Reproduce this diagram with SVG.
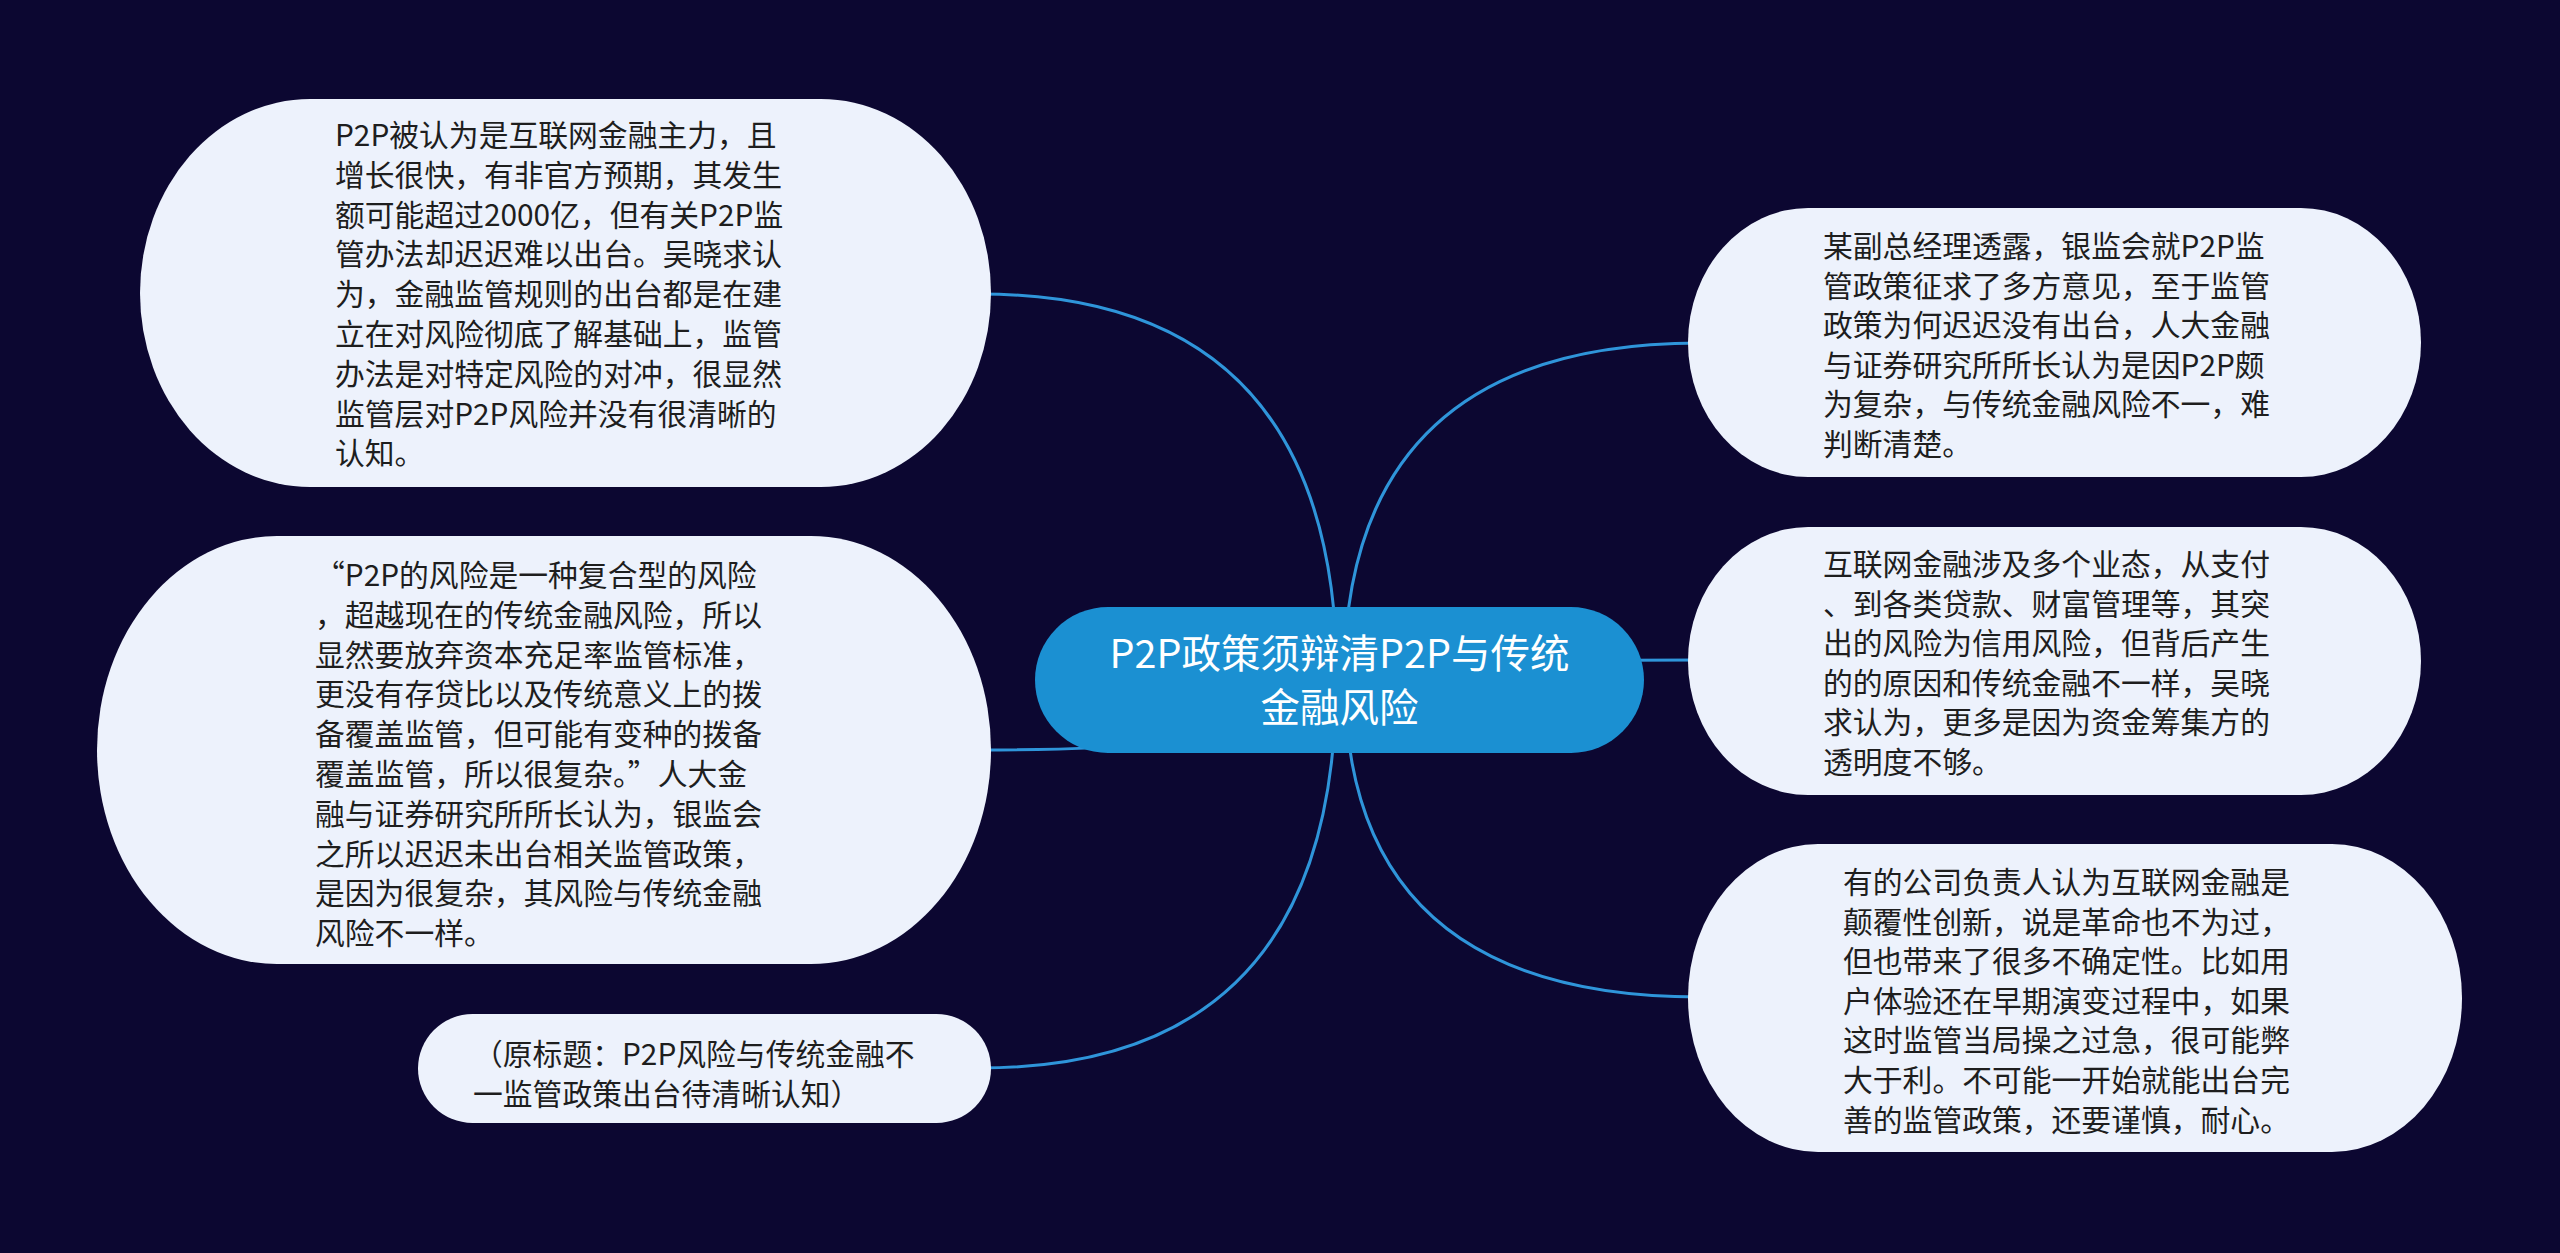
<svg xmlns="http://www.w3.org/2000/svg" width="2560" height="1253" viewBox="0 0 2560 1253">
<style>
.bg{fill:#0c0731}
.link{fill:none;stroke:#2f95da;stroke-width:3;stroke-linecap:round}
.card{fill:#edf2fc}
.root{fill:#1b90d2}
.t{font-family:"Noto Sans CJK SC","Noto Sans",sans-serif;font-size:29.8px;fill:#1e1e1e}
.rt{font-family:"Noto Sans CJK SC","Noto Sans",sans-serif;font-size:39.5px;fill:#ffffff;text-anchor:middle}
</style>
<rect class="bg" x="0" y="0" width="2560" height="1253"/>
<g id="connectors">
<path class="link" d="M 980,294 Q 1337,294 1337,680"/>
<path class="link" d="M 980,750 Q 1337,750 1337,680"/>
<path class="link" d="M 980,1068 Q 1336,1068 1336,680"/>
<path class="link" d="M 1700,343 Q 1344,343 1344,680"/>
<path class="link" d="M 1700,660 Q 1341,660 1341,680"/>
<path class="link" d="M 1700,997 Q 1345,997 1345,680"/>
</g>
<g id="root">
<rect class="root" x="1035" y="607" width="609" height="146" rx="73" ry="73"/>
<text class="rt" x="1339.5" y="668">P2P政策须辩清P2P与传统</text>
<text class="rt" x="1339.5" y="722">金融风险</text>
</g>
<g id="node1">
<rect class="card" x="140" y="99" width="851" height="388" rx="170" ry="194"/>
<text class="t" x="335" y="146">P2P被认为是互联网金融主力，且</text>
<text class="t" x="335" y="185.8">增长很快，有非官方预期，其发生</text>
<text class="t" x="335" y="225.6">额可能超过2000亿，但有关P2P监</text>
<text class="t" x="335" y="265.4">管办法却迟迟难以出台。吴晓求认</text>
<text class="t" x="335" y="305.2">为，金融监管规则的出台都是在建</text>
<text class="t" x="335" y="345">立在对风险彻底了解基础上，监管</text>
<text class="t" x="335" y="384.8">办法是对特定风险的对冲，很显然</text>
<text class="t" x="335" y="424.6">监管层对P2P风险并没有很清晰的</text>
<text class="t" x="335" y="464.4">认知。</text>
</g>
<g id="node2">
<rect class="card" x="97" y="536" width="894" height="428" rx="180" ry="214"/>
<text class="t" x="315" y="586">“P2P的风险是一种复合型的风险</text>
<text class="t" x="315" y="625.8">，超越现在的传统金融风险，所以</text>
<text class="t" x="315" y="665.6">显然要放弃资本充足率监管标准，</text>
<text class="t" x="315" y="705.4">更没有存贷比以及传统意义上的拨</text>
<text class="t" x="315" y="745.2">备覆盖监管，但可能有变种的拨备</text>
<text class="t" x="315" y="785">覆盖监管，所以很复杂。”人大金</text>
<text class="t" x="315" y="824.8">融与证券研究所所长认为，银监会</text>
<text class="t" x="315" y="864.6">之所以迟迟未出台相关监管政策，</text>
<text class="t" x="315" y="904.4">是因为很复杂，其风险与传统金融</text>
<text class="t" x="315" y="944.2">风险不一样。</text>
</g>
<g id="node3">
<rect class="card" x="418" y="1014" width="573" height="109" rx="54.5" ry="54.5"/>
<text class="t" x="473" y="1065">（原标题：P2P风险与传统金融不</text>
<text class="t" x="473" y="1104.8">一监管政策出台待清晰认知）</text>
</g>
<g id="node4">
<rect class="card" x="1688" y="208" width="733" height="269" rx="120" ry="134.5"/>
<text class="t" x="1823" y="257">某副总经理透露，银监会就P2P监</text>
<text class="t" x="1823" y="296.6">管政策征求了多方意见，至于监管</text>
<text class="t" x="1823" y="336.2">政策为何迟迟没有出台，人大金融</text>
<text class="t" x="1823" y="375.8">与证券研究所所长认为是因P2P颇</text>
<text class="t" x="1823" y="415.4">为复杂，与传统金融风险不一，难</text>
<text class="t" x="1823" y="455">判断清楚。</text>
</g>
<g id="node5">
<rect class="card" x="1688" y="527" width="733" height="268" rx="120" ry="134"/>
<text class="t" x="1823" y="575">互联网金融涉及多个业态，从支付</text>
<text class="t" x="1823" y="614.6">、到各类贷款、财富管理等，其突</text>
<text class="t" x="1823" y="654.2">出的风险为信用风险，但背后产生</text>
<text class="t" x="1823" y="693.8">的的原因和传统金融不一样，吴晓</text>
<text class="t" x="1823" y="733.4">求认为，更多是因为资金筹集方的</text>
<text class="t" x="1823" y="773">透明度不够。</text>
</g>
<g id="node6">
<rect class="card" x="1688" y="844" width="774" height="308" rx="130" ry="154"/>
<text class="t" x="1843" y="893">有的公司负责人认为互联网金融是</text>
<text class="t" x="1843" y="932.6">颠覆性创新，说是革命也不为过，</text>
<text class="t" x="1843" y="972.2">但也带来了很多不确定性。比如用</text>
<text class="t" x="1843" y="1011.8">户体验还在早期演变过程中，如果</text>
<text class="t" x="1843" y="1051.4">这时监管当局操之过急，很可能弊</text>
<text class="t" x="1843" y="1091">大于利。不可能一开始就能出台完</text>
<text class="t" x="1843" y="1130.6">善的监管政策，还要谨慎，耐心。</text>
</g>
</svg>
